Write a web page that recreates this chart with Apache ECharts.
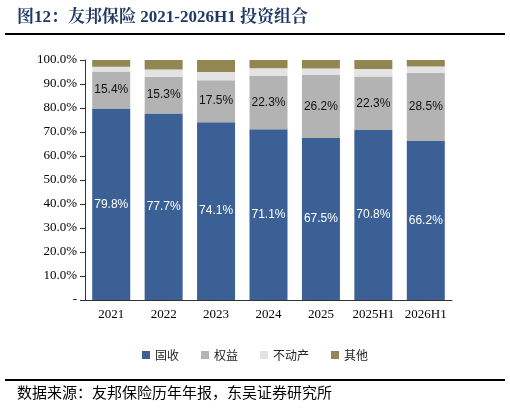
<!DOCTYPE html><html><head><meta charset="utf-8"><script src="https://cdn.jsdelivr.net/npm/echarts@6/dist/echarts.min.js"></script>
<style>body{margin:0;background:#fff}#c{width:510px;height:412px}</style></head><body><div id="c"></div><script>
const categories=['2021','2022','2023','2024','2025','2025H1','2026H1'];
const fixedIncome=[79.8,77.7,74.1,71.1,67.5,70.8,66.2];
const equity=[15.4,15.3,17.5,22.3,26.2,22.3,28.5];
const realEstate=[2.0,3.0,3.4,3.2,2.8,3.2,2.6];
const other=[2.8,4.0,5.0,3.4,3.5,3.7,2.7];
const serif='"Liberation Serif","Noto Serif CJK SC","Noto Sans CJK SC",serif';
const cjk='"Noto Sans CJK SC",sans-serif';
const ch=echarts.init(document.getElementById('c'));
const lab={show:true,position:'inside',fontSize:12,fontFamily:'"Liberation Sans",Arial,sans-serif',formatter:p=>p.value.toFixed(1)+'%'};
const mk=(name,data,color,label)=>({name,type:'bar',stack:'s',data,barWidth:38,itemStyle:{color},label:label||{show:false}});
ch.setOption({
 animation:false,
 title:{text:'图12：友邦保险 2021-2026H1 投资组合',left:12,top:4,textStyle:{fontSize:17,fontWeight:'bold',color:'#1F3864',fontFamily:serif}},
 graphic:[
  {type:'rect',shape:{x:5,y:33,width:500,height:2},style:{fill:'#000'}},
  {type:'rect',shape:{x:5,y:379,width:500,height:2},style:{fill:'#000'}},
  {type:'text',left:17,top:385,style:{text:'数据来源：友邦保险历年年报，东吴证券研究所',fontSize:15,fill:'#000',fontFamily:cjk}}
 ],
 legend:{bottom:46,left:'center',itemWidth:8,itemHeight:8,itemGap:22,icon:'rect',textStyle:{fontSize:12,fontFamily:cjk,color:'#222'},data:['固收','权益','不动产','其他']},
 grid:{left:85,right:58,top:60,bottom:112},
 xAxis:{type:'category',data:categories,axisLine:{lineStyle:{color:'#333'}},axisTick:{show:false},axisLabel:{interval:0,fontSize:13,color:'#000',fontFamily:serif}},
 yAxis:{type:'value',min:0,max:100,interval:10,axisLine:{show:true,lineStyle:{color:'#333'}},axisTick:{show:true,lineStyle:{color:'#333'}},splitLine:{show:false},axisLabel:{fontSize:13,color:'#000',fontFamily:serif,formatter:v=>v===0?'-':v.toFixed(1)+'%'}},
 series:[
  mk('固收',fixedIncome,'#3A6096',Object.assign({},lab,{color:'#fff'})),
  mk('权益',equity,'#B3B3B3',Object.assign({},lab,{color:'#111'})),
  mk('不动产',realEstate,'#E3E3E3'),
  mk('其他',other,'#928653')
 ]
});
</script></body></html>
